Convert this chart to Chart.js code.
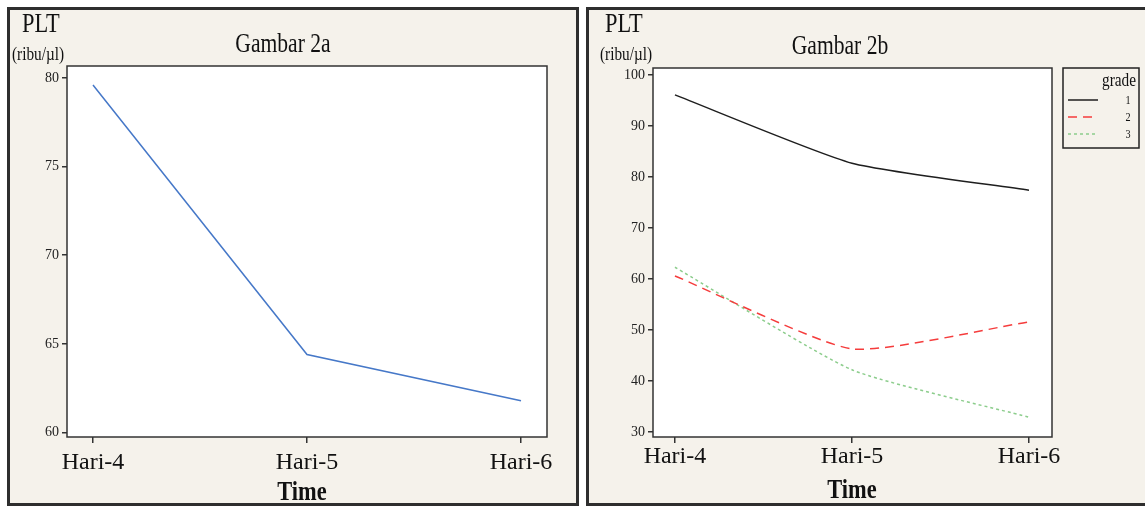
<!DOCTYPE html>
<html>
<head>
<meta charset="utf-8">
<script src="https://cdn.jsdelivr.net/npm/chart.js@4.4.1/dist/chart.umd.min.js"></script>
<style>
  body { margin: 0; background: #fff; width: 1145px; height: 507px; overflow: hidden; position: relative; }
  .panel { position: absolute; top: 7px; height: 499px; box-sizing: border-box; border: 3px solid #2e2e2e; background: #f5f2eb; }
  #p1 { left: 7px; width: 572px; }
  #p2 { left: 586px; width: 566px; }
  canvas { position: absolute; left: 0; top: 0; }
</style>
</head>
<body>
<div class="panel" id="p1"><canvas id="c1" width="566" height="493" style="width:566px;height:493px"></canvas></div>
<div class="panel" id="p2"><canvas id="c2" width="560" height="493" style="width:560px;height:493px"></canvas></div>
<script>
// data
const hari = ['Hari-4', 'Hari-5', 'Hari-6'];
const pltAll = [79.6, 64.4, 61.8];
const grade1 = [96.1, 82.7, 77.4];
const grade2 = [60.6, 46.3, 51.6];
const grade3 = [62.3, 42.2, 32.9];
const gradeNames = ['1', '2', '3'];
const ticksA = [60, 65, 70, 75, 80];
const ticksB = [30, 40, 50, 60, 70, 80, 90, 100];

const SERIF = "'Liberation Serif', 'Times New Roman', serif";

function pts(arr) {
    return arr.map((v, i) => ({ x: i, y: v }));
}

// axes shared by both panels
function axes(yTicks, yMin, yMax, yWidth, xMin, xMax, xPad) {
    return {
        x: {
            type: 'linear',
            min: xMin,
            max: xMax,
            afterBuildTicks: s => { s.ticks = hari.map((h, i) => ({ value: i })); },
            afterFit: s => { s.height = 66; },
            ticks: {
                callback: v => hari[v],
                autoSkip: false,
                maxRotation: 0,
                padding: xPad,
                color: '#111',
                font: { family: SERIF, size: 24 }
            },
            grid: { drawOnChartArea: false, drawTicks: true, tickLength: 6, color: '#333', lineWidth: 1.5 },
            border: { display: false }
        },
        y: {
            min: yMin,
            max: yMax,
            afterBuildTicks: s => { s.ticks = yTicks.map(v => ({ value: v })); },
            afterFit: s => { s.width = yWidth; },
            ticks: {
                autoSkip: false,
                padding: 3,
                color: '#222',
                font: { family: SERIF, size: 14 }
            },
            grid: { drawOnChartArea: false, drawTicks: true, tickLength: 5, color: '#333', lineWidth: 1.5 },
            border: { display: false }
        }
    };
}

// text drawn a bit narrow, like the scanned figure
function text(ctx, str, x, y, font, align, sx) {
    sx = sx || 1;
    ctx.save();
    ctx.translate(x, y);
    ctx.scale(sx, 1);
    ctx.font = font;
    ctx.textAlign = align || 'left';
    ctx.textBaseline = 'alphabetic';
    ctx.fillStyle = '#111';
    ctx.fillText(str, 0, 0);
    ctx.restore();
}

// white plot area, box around it, and the free texts
const frame = {
    id: 'frame',
    beforeDraw(chart) {
        const a = chart.chartArea, ctx = chart.ctx;
        ctx.save();
        ctx.fillStyle = '#fff';
        ctx.fillRect(a.left, a.top, a.right - a.left, a.bottom - a.top);
        ctx.restore();
    },
    afterDraw(chart, args, o) {
        const a = chart.chartArea, ctx = chart.ctx;
        ctx.save();
        ctx.strokeStyle = '#333';
        ctx.lineWidth = 1.5;
        ctx.strokeRect(a.left, a.top, a.right - a.left, a.bottom - a.top);
        text(ctx, 'PLT', o.plt[0], o.plt[1], '27px ' + SERIF, 'left', 0.83);
        text(ctx, '(ribu/\u00b5l)', o.unit[0], o.unit[1], '18px ' + SERIF, 'left', 0.85);
        text(ctx, o.title, o.titlePos[0], o.titlePos[1], '27px ' + SERIF, 'center', 0.8);
        text(ctx, 'Time', o.time[0], o.time[1], 'bold 28px ' + SERIF, 'center', 0.8);

        if (o.legend) {
            const L = o.legend;
            ctx.strokeStyle = '#222';
            ctx.lineWidth = 1.5;
            ctx.strokeRect(L.x, L.y, L.w, L.h);
            text(ctx, 'grade', L.x + L.w - 3, L.y + 18, '18px ' + SERIF, 'right', 0.85);
            chart.data.datasets.forEach((ds, i) => {
                const yy = L.y + 32 + i * 17;
                ctx.beginPath();
                ctx.strokeStyle = ds.borderColor;
                ctx.lineWidth = ds.borderWidth;
                ctx.setLineDash(ds.borderDash || []);
                ctx.moveTo(L.x + 5, yy);
                ctx.lineTo(L.x + 35, yy);
                ctx.stroke();
                ctx.setLineDash([]);
                text(ctx, ds.label, L.x + 65, yy + 4, '12px ' + SERIF, 'center', 0.85);
            });
        }
        ctx.restore();
    }
};

document.addEventListener('DOMContentLoaded', function() {
    new Chart(document.getElementById('c1'), {
        type: 'line',
        data: {
            datasets: [{
                label: 'PLT',
                data: pts(pltAll),
                borderColor: 'rgb(70, 120, 200)',
                borderWidth: 1.5,
                pointRadius: 0,
                tension: 0,
                fill: false
            }]
        },
        options: {
            responsive: false,
            animation: false,
            layout: { padding: { top: 56, left: 0, right: 29, bottom: 0 } },
            scales: axes(ticksA, 59.75, 80.67, 57, -0.1215, 2.1215, 5),
            plugins: {
                legend: { display: false },
                tooltip: { enabled: false },
                frame: {
                    plt: [12, 22], unit: [2, 50],
                    title: 'Gambar 2a', titlePos: [273, 42],
                    time: [292, 490]
                }
            }
        },
        plugins: [frame]
    });

    const styles = [
        { c: '#1e1e1e', dash: [] },
        { c: 'rgb(245, 60, 60)', dash: [9, 6] },
        { c: 'rgb(140, 205, 140)', dash: [3, 3] }
    ];
    new Chart(document.getElementById('c2'), {
        type: 'line',
        data: {
            datasets: [grade1, grade2, grade3].map((g, i) => ({
                label: gradeNames[i],
                data: pts(g),
                borderColor: styles[i].c,
                borderDash: styles[i].dash,
                borderWidth: 1.5,
                pointRadius: 0,
                tension: 0.18,
                fill: false
            }))
        },
        options: {
            responsive: false,
            animation: false,
            layout: { padding: { top: 58, left: 0, right: 97, bottom: 0 } },
            scales: axes(ticksB, 29.02, 101.37, 64, -0.124, 2.13, -1),
            plugins: {
                legend: { display: false },
                tooltip: { enabled: false },
                frame: {
                    plt: [16, 22], unit: [11, 50],
                    title: 'Gambar 2b', titlePos: [251, 44],
                    time: [263, 488],
                    legend: { x: 474, y: 58, w: 76, h: 80 }
                }
            }
        },
        plugins: [frame]
    });
});
</script>
</body>
</html>
